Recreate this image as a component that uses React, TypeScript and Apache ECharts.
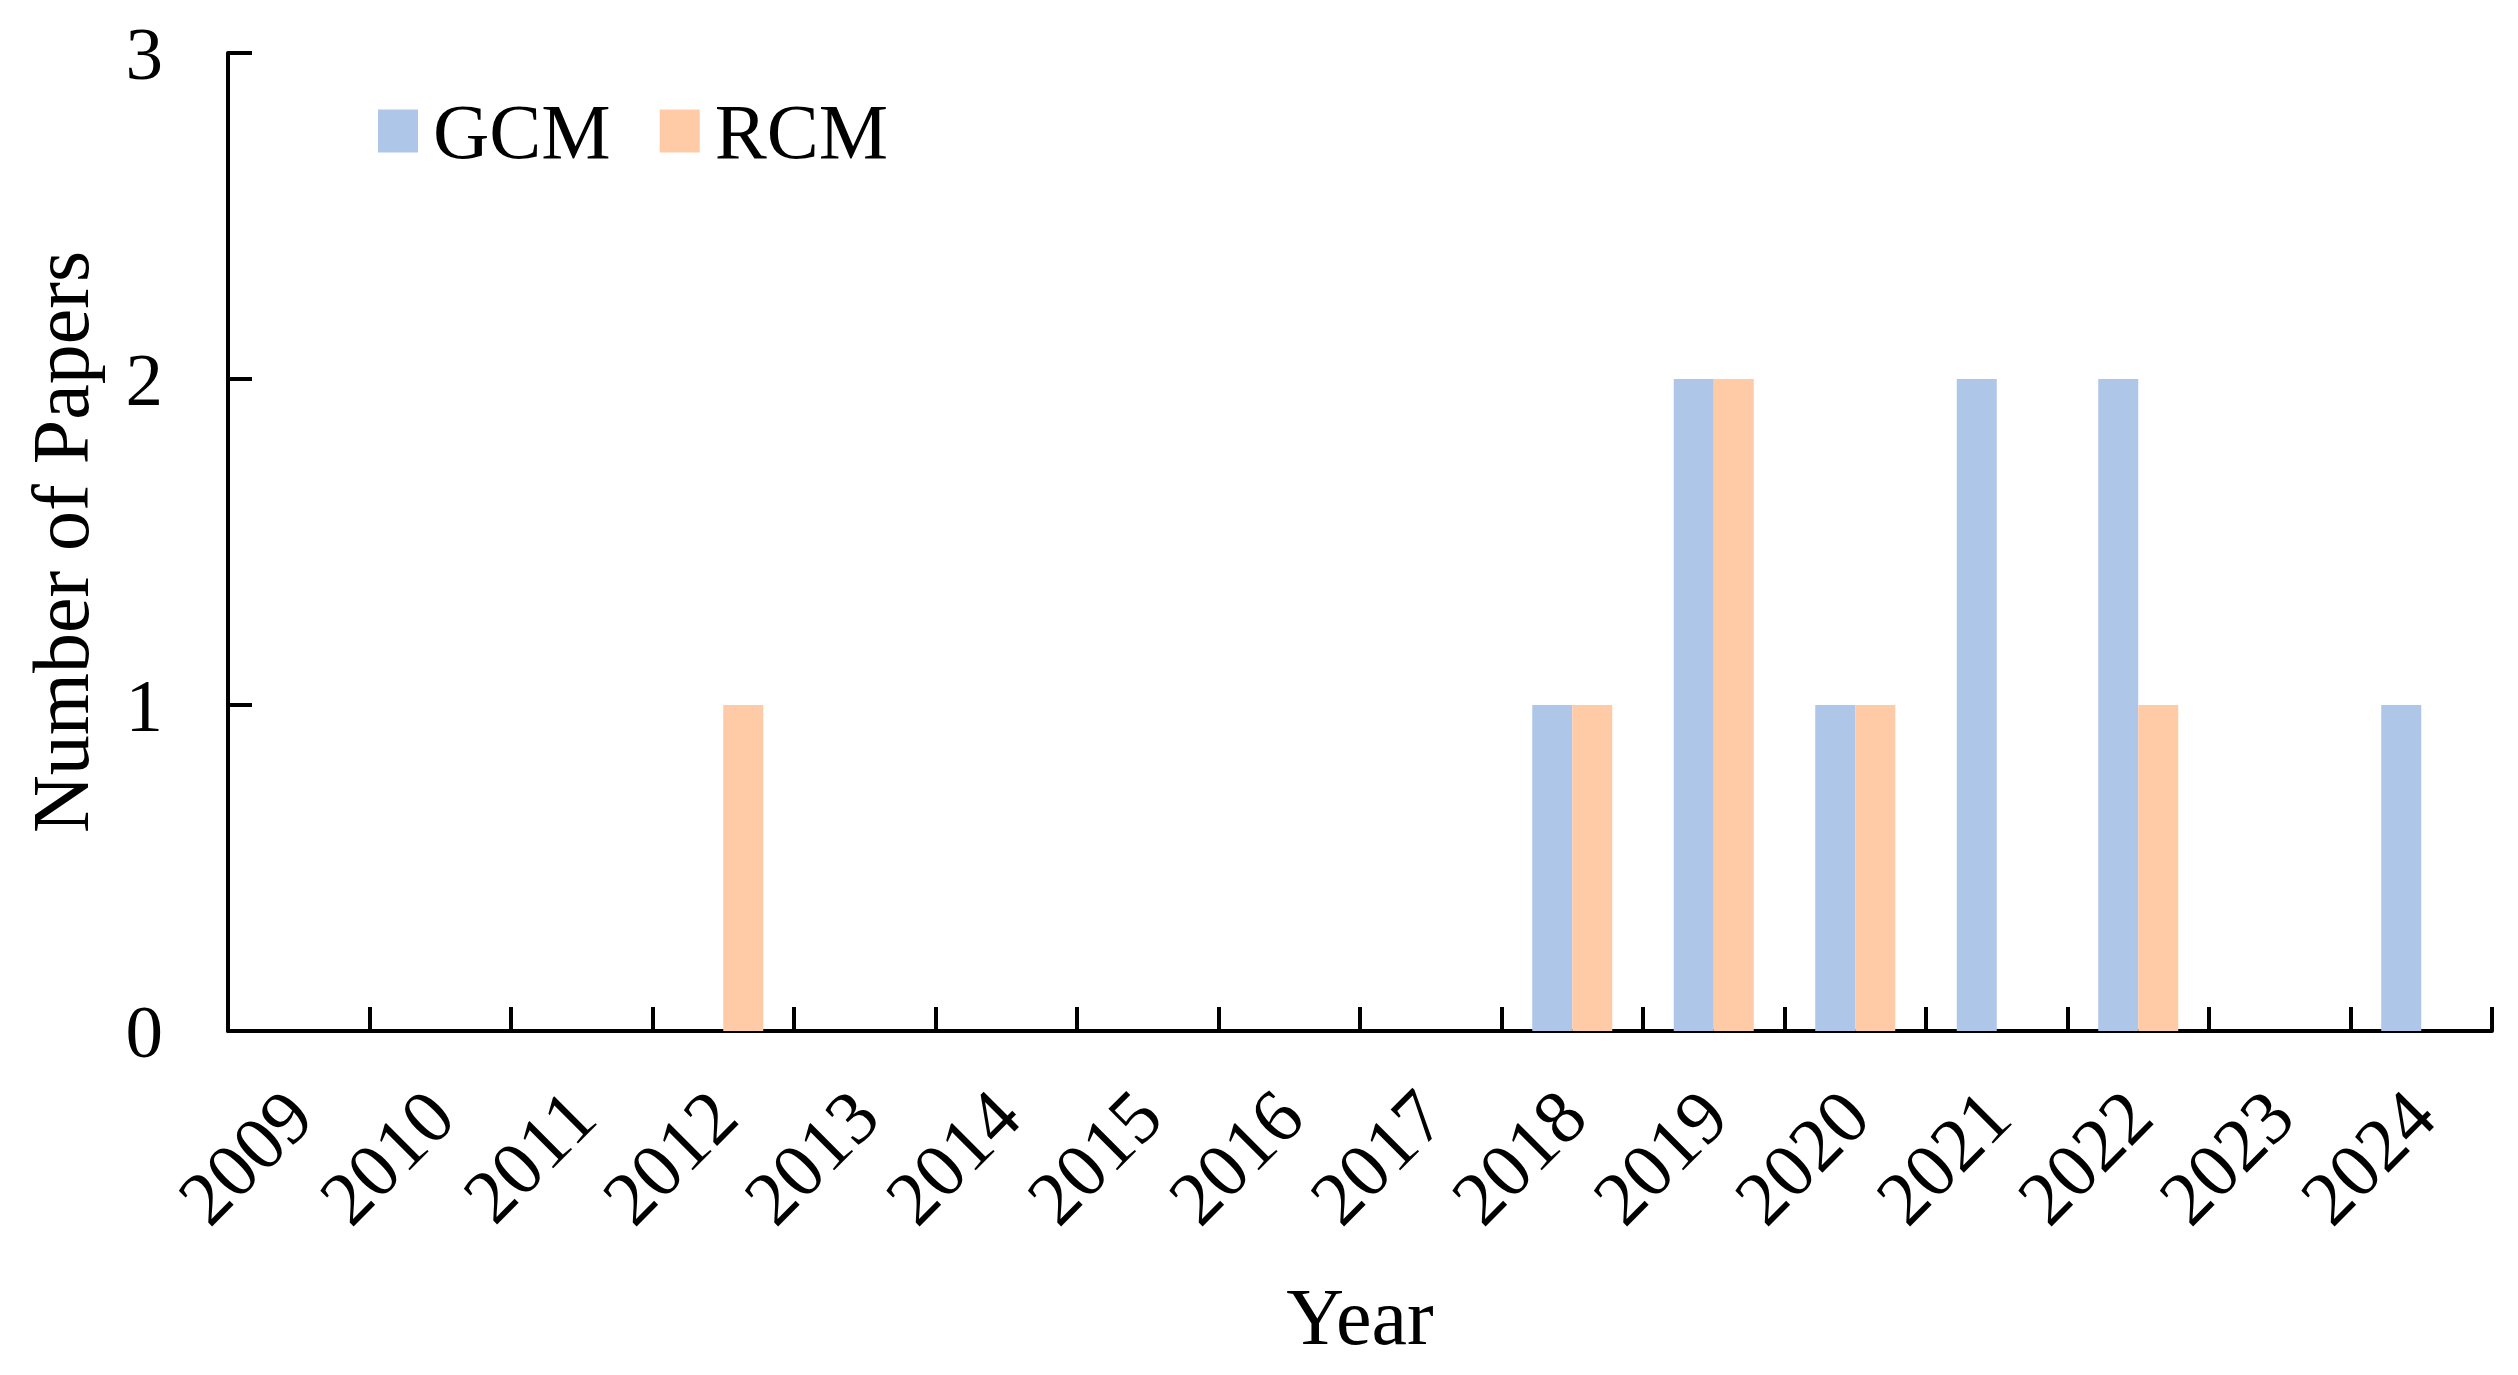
import React, { useEffect, useRef } from "react";
import * as echarts from "echarts";

const years = ["2009", "2010", "2011", "2012", "2013", "2014", "2015", "2016", "2017", "2018", "2019", "2020", "2021", "2022", "2023", "2024"];
const gcm = [0, 0, 0, 0, 0, 0, 0, 0, 0, 1, 2, 1, 2, 2, 0, 1];
const rcm = [0, 0, 0, 1, 0, 0, 0, 0, 0, 1, 2, 1, 0, 1, 0, 0];
const seriesNames = ["GCM", "RCM"];
const colors = ["#aec7e8", "#ffcba6"];

const FONT = "'Liberation Serif', 'Times New Roman', serif";

export default function App() {
  const ref = useRef<HTMLDivElement>(null);
  useEffect(() => {
    document.body.style.margin = "0";
    document.body.style.overflow = "hidden";
    const chart = echarts.init(ref.current!, null, { renderer: "svg" });
    chart.setOption({
      animation: false,
      backgroundColor: "#ffffff",
      textStyle: { fontFamily: FONT, color: "#000" },
      grid: { left: 228, right: 26, top: 53, bottom: 344, containLabel: false },
      legend: {
        left: 378,
        top: 92,
        padding: 0,
        icon: "rect",
        itemWidth: 40,
        itemHeight: 43,
        itemGap: 49,
        data: seriesNames,
        textStyle: { fontFamily: FONT, fontSize: 78, color: "#000", padding: [0, 0, 0, 10] },
      },
      xAxis: {
        type: "category",
        data: years,
        boundaryGap: true,
        name: "Year",
        nameLocation: "middle",
        nameGap: 246,
        nameTextStyle: { fontFamily: FONT, fontSize: 80, color: "#000" },
        axisLine: { show: true, lineStyle: { color: "#000", width: 4 } },
        axisTick: { show: true, inside: true, length: 24, alignWithLabel: false, interval: 0, lineStyle: { color: "#000", width: 4 } },
        axisLabel: { show: true, rotate: 45, margin: 72, fontFamily: FONT, fontSize: 76, color: "#000", interval: 0 },
        splitLine: { show: false },
      },
      yAxis: {
        type: "value",
        min: 0,
        max: 3,
        interval: 1,
        name: "Number of Papers",
        nameLocation: "middle",
        nameGap: 127,
        nameTextStyle: { fontFamily: FONT, fontSize: 80, color: "#000" },
        axisLine: { show: true, lineStyle: { color: "#000", width: 4 } },
        axisTick: { show: true, inside: true, length: 24, lineStyle: { color: "#000", width: 4 } },
        axisLabel: { margin: 65, fontFamily: FONT, fontSize: 75, color: "#000" },
        splitLine: { show: false },
      },
      series: [
        { name: seriesNames[0], type: "bar", data: gcm, barWidth: 40, barGap: "0%", itemStyle: { color: colors[0] } },
        { name: seriesNames[1], type: "bar", data: rcm, barWidth: 40, barGap: "0%", itemStyle: { color: colors[1] } },
      ],
    });
    return () => chart.dispose();
  }, []);
  return <div ref={ref} style={{ width: 2518, height: 1375 }} />;
}
